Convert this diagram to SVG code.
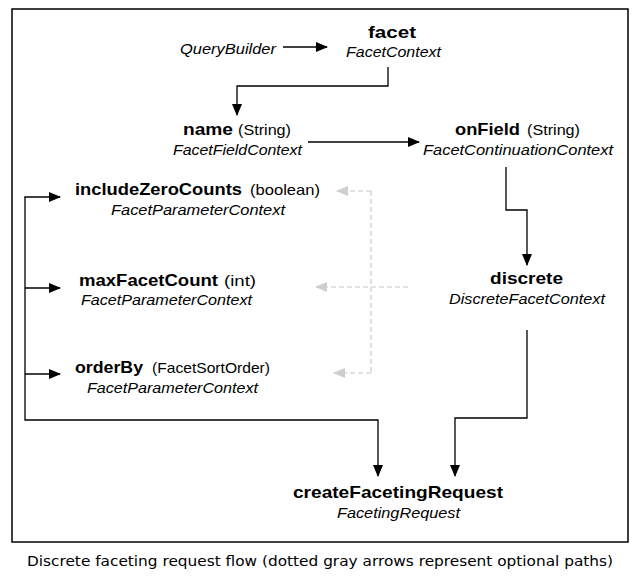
<svg xmlns="http://www.w3.org/2000/svg" width="641" height="577" viewBox="0 0 641 577">
<style>
.b{font-family:"Liberation Sans",Arial,sans-serif;font-weight:bold;font-size:17px;fill:#000}
.n{font-family:"Liberation Sans",Arial,sans-serif;font-size:15px;fill:#000}
.i{font-family:"Liberation Sans",Arial,sans-serif;font-style:italic;font-size:15px;fill:#000}
.cap{font-family:"DejaVu Sans",Verdana,sans-serif;font-size:14px;fill:#000}
.ln{fill:none;stroke:#000;stroke-width:1.3}
.opt{fill:none;stroke:#c8c8c8;stroke-width:1.2;stroke-dasharray:5,3}
</style>
<defs>
<marker id="ah" markerWidth="12" markerHeight="10" refX="11" refY="5" orient="auto" markerUnits="userSpaceOnUse">
<path d="M0,0 L12,5 L0,10 Z" fill="#000"/>
</marker>
<marker id="gh" markerWidth="12" markerHeight="10" refX="11" refY="5" orient="auto" markerUnits="userSpaceOnUse">
<path d="M0,0 L12,5 L0,10 Z" fill="#cfcfcf"/>
</marker>
</defs>
<rect x="12" y="9" width="616" height="533" fill="#fff" stroke="#000" stroke-width="1.5"/>
<g id="connectors">
<path class="ln" d="M283,47 H327" marker-end="url(#ah)"/>
<path class="ln" d="M388,67 V86 H237 V115" marker-end="url(#ah)"/>
<path class="ln" d="M308,142 H419" marker-end="url(#ah)"/>
<path class="ln" d="M506,167 V210 H527 V265" marker-end="url(#ah)"/>
<path class="ln" d="M527,330 V418 H455 V476" marker-end="url(#ah)"/>
<path class="ln" d="M25,197 V420 H378 V476" marker-end="url(#ah)"/>
<path class="ln" d="M24.35,197 H60" marker-end="url(#ah)"/>
<path class="ln" d="M25,288 H60" marker-end="url(#ah)"/>
<path class="ln" d="M25,374 H60" marker-end="url(#ah)"/>
<path class="opt" d="M371,191 V373"/>
<path class="opt" d="M371,191 H337" marker-end="url(#gh)"/>
<path class="opt" d="M371,373 H334" marker-end="url(#gh)"/>
<path class="opt" d="M408,287 H316" marker-end="url(#gh)"/>
</g>
<g id="queryBuilder"><text class="i" x="180" y="54" textLength="96" lengthAdjust="spacingAndGlyphs">QueryBuilder</text></g>
<g id="facet">
<text class="b" x="368" y="38" textLength="48" lengthAdjust="spacingAndGlyphs">facet</text>
<text class="i" x="346" y="57" textLength="95" lengthAdjust="spacingAndGlyphs">FacetContext</text>
</g>
<g id="name">
<text class="b" x="183" y="135" textLength="50" lengthAdjust="spacingAndGlyphs">name</text>
<text class="n" x="238" y="135" textLength="53" lengthAdjust="spacingAndGlyphs">(String)</text>
<text class="i" x="173" y="155" textLength="129" lengthAdjust="spacingAndGlyphs">FacetFieldContext</text>
</g>
<g id="onField">
<text class="b" x="455" y="135" textLength="65" lengthAdjust="spacingAndGlyphs">onField</text>
<text class="n" x="527" y="135" textLength="53" lengthAdjust="spacingAndGlyphs">(String)</text>
<text class="i" x="423" y="155" textLength="190" lengthAdjust="spacingAndGlyphs">FacetContinuationContext</text>
</g>
<g id="discrete">
<text class="b" x="490" y="284" textLength="73" lengthAdjust="spacingAndGlyphs">discrete</text>
<text class="i" x="449" y="304" textLength="156" lengthAdjust="spacingAndGlyphs">DiscreteFacetContext</text>
</g>
<g id="includeZeroCounts">
<text class="b" x="75" y="195" textLength="167" lengthAdjust="spacingAndGlyphs">includeZeroCounts</text>
<text class="n" x="250" y="195" textLength="70" lengthAdjust="spacingAndGlyphs">(boolean)</text>
<text class="i" x="111" y="215" textLength="174" lengthAdjust="spacingAndGlyphs">FacetParameterContext</text>
</g>
<g id="maxFacetCount">
<text class="b" x="79" y="286" textLength="139" lengthAdjust="spacingAndGlyphs">maxFacetCount</text>
<text class="n" x="224" y="286" textLength="32" lengthAdjust="spacingAndGlyphs">(int)</text>
<text class="i" x="81" y="305" textLength="171" lengthAdjust="spacingAndGlyphs">FacetParameterContext</text>
</g>
<g id="orderBy">
<text class="b" x="75" y="373" textLength="68" lengthAdjust="spacingAndGlyphs">orderBy</text>
<text class="n" x="152" y="373" textLength="118" lengthAdjust="spacingAndGlyphs">(FacetSortOrder)</text>
<text class="i" x="87" y="393" textLength="171" lengthAdjust="spacingAndGlyphs">FacetParameterContext</text>
</g>
<g id="createFacetingRequest">
<text class="b" x="293" y="498" textLength="210" lengthAdjust="spacingAndGlyphs">createFacetingRequest</text>
<text class="i" x="337" y="518" textLength="123" lengthAdjust="spacingAndGlyphs">FacetingRequest</text>
</g>
<text class="cap" x="27" y="566" textLength="586" lengthAdjust="spacingAndGlyphs">Discrete faceting request flow (dotted gray arrows represent optional paths)</text>
</svg>
